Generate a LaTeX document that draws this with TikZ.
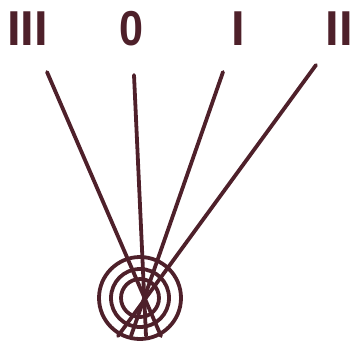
\documentclass[tikz,border=0pt]{standalone}
\usepackage{fontspec}
\setmainfont{Liberation Sans}
\definecolor{ink}{RGB}{78,32,42}
\begin{document}
\begin{tikzpicture}[x=1pt,y=-1pt,
  lbl/.style={text=ink,font=\fontsize{49}{49}\selectfont\bfseries,inner sep=0pt,anchor=base},
  ray/.style={draw=ink,line width=3.8pt,line cap=round},
  ring/.style={draw=ink,line width=3.8pt}]
\useasboundingbox (0,0) rectangle (353,341);
\node[lbl] (lIII) at (27.5,45) {III};
\node[lbl,xscale=0.88] (l0) at (131,45) {0};
\node[lbl] (lI) at (238,45) {I};
\node[lbl] (lII) at (339.5,45) {II};
\coordinate (sIII) at (47,72);
\coordinate (s0) at (134,75);
\coordinate (sI) at (223,72);
\coordinate (sII) at (316,65);
\coordinate (eIII) at (161,336);
\coordinate (e0) at (146,336);
\coordinate (eI) at (131,336);
\coordinate (eII) at (118,336);
\coordinate (c) at (140,298);
\draw[ring] (c) circle[radius=41];
\draw[ring] (c) circle[radius=29];
\draw[ring] (c) circle[radius=19];
\draw[ray] (sIII) -- (eIII);
\draw[ray] (s0) -- (e0);
\draw[ray] (sI) -- (eI);
\draw[ray] (sII) -- (eII);
\end{tikzpicture}
\end{document}
